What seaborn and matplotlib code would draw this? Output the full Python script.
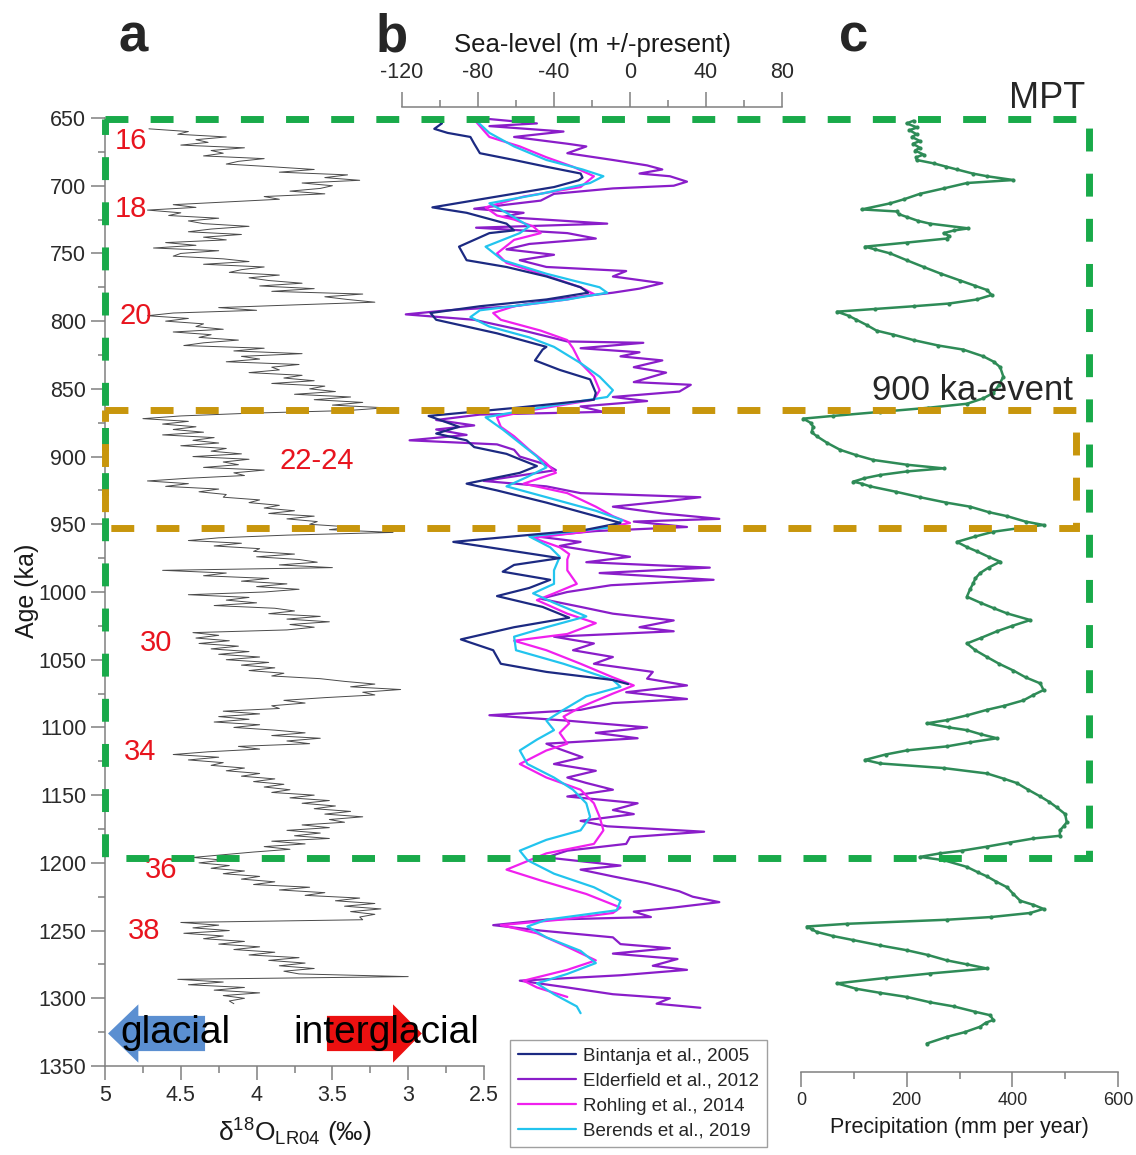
import numpy as np
import matplotlib
matplotlib.use("Agg")
import matplotlib.pyplot as plt
import seaborn as sns
from matplotlib import transforms
from matplotlib.patches import Rectangle, FancyArrow
from matplotlib.ticker import MultipleLocator, FuncFormatter

# ---------------------------------------------------------------- data
# LR04 benthic d18O stack (permil), sampled every 2 ka from 658 to 1304 ka
d18o_age = np.arange(658, 1305, 2)
d18o_val = [
    4.71, 4.45, 4.52, 4.20, 4.40, 4.32, 4.50, 4.08, 4.30, 4.22,
    4.35, 3.95, 4.12, 4.20, 3.90, 3.62, 3.85, 3.40, 3.55, 3.32,
    3.70, 3.50, 3.58, 3.78, 3.55, 3.95, 3.85, 4.20, 4.55, 4.40,
    4.72, 4.50, 4.58, 4.25, 4.45, 4.35, 4.05, 4.30, 4.45, 4.10,
    4.35, 4.20, 4.60, 4.40, 4.68, 4.25, 4.50, 4.55, 4.22, 4.05,
    4.35, 3.95, 4.10, 4.18, 3.85, 4.05, 3.92, 3.70, 3.98, 3.62,
    3.90, 3.30, 3.55, 3.40, 3.22, 3.75, 4.25, 4.00, 4.55, 4.72,
    4.45, 4.60, 4.35, 4.40, 4.22, 4.55, 4.30, 4.38, 4.12, 4.35,
    4.48, 3.95, 4.15, 3.70, 4.10, 3.98, 4.20, 3.72, 3.90, 3.85,
    4.05, 3.70, 3.82, 3.62, 3.90, 3.55, 3.65, 3.48, 3.75, 3.38,
    3.62, 3.30, 3.50, 3.15, 3.40, 4.05, 4.50, 4.75, 4.45, 4.62,
    4.40, 4.55, 4.35, 4.62, 4.28, 4.42, 4.25, 4.50, 4.20, 4.30,
    4.10, 4.42, 4.05, 4.22, 4.12, 4.35, 3.95, 4.15, 4.08, 4.45,
    4.72, 4.45, 4.60, 4.25, 4.38, 4.20, 4.22, 3.98, 4.05, 3.85,
    3.95, 3.75, 3.92, 3.62, 3.80, 3.60, 3.65, 3.38, 3.52, 3.10,
    3.80, 4.25, 4.45, 4.10, 4.28, 3.98, 4.02, 3.75, 4.00, 3.72,
    3.60, 3.85, 3.50, 4.62, 4.20, 4.35, 3.92, 4.10, 3.80, 4.00,
    3.72, 3.95, 4.45, 4.05, 4.20, 4.00, 4.28, 3.88, 3.75, 3.92,
    3.58, 3.80, 3.52, 3.78, 3.62, 3.80, 4.42, 4.25, 4.40, 4.18,
    4.38, 4.12, 4.30, 4.05, 4.25, 3.98, 4.20, 3.92, 4.10, 3.88,
    4.05, 3.82, 3.90, 3.58, 3.42, 3.22, 3.38, 3.05, 3.30, 3.22,
    3.55, 3.82, 3.68, 3.90, 3.85, 4.22, 3.98, 4.25, 4.05, 4.28,
    3.98, 4.15, 3.88, 3.68, 3.90, 3.58, 3.80, 3.65, 4.12, 3.98,
    4.32, 4.55, 4.25, 4.45, 4.22, 4.30, 4.08, 4.20, 3.98, 4.10,
    3.88, 4.02, 3.82, 3.95, 3.78, 3.90, 3.62, 3.78, 3.52, 3.70,
    3.48, 3.62, 3.38, 3.55, 3.30, 3.52, 3.42, 3.70, 3.52, 3.80,
    3.58, 3.75, 3.52, 3.90, 3.68, 3.95, 3.78, 4.02, 4.22, 4.42,
    4.22, 4.38, 4.18, 4.30, 4.08, 4.22, 3.98, 4.10, 3.88, 4.02,
    3.65, 3.85, 3.55, 3.68, 3.32, 3.48, 3.22, 3.42, 3.18, 3.38,
    3.22, 3.32, 3.30, 4.50, 4.25, 4.42, 4.18, 4.48, 4.22, 4.35,
    4.08, 4.25, 3.98, 4.15, 3.88, 4.05, 3.72, 3.92, 3.68, 3.85,
    3.62, 3.82, 3.72, 3.00, 4.52, 4.22, 4.45, 4.08, 4.28, 3.98,
    4.22, 4.08, 4.18, 4.15,
]

# Sea-level reconstructions (m relative to present)
bintanja_age = [650, 654, 658, 661, 664, 669, 676, 681, 686, 691,
                694, 696, 701, 708, 716, 720, 728, 733, 735, 745,
                755, 760, 767, 775, 779, 784, 789, 794, 799, 809,
                819, 821, 829, 836, 843, 853, 858, 864, 870, 878,
                883, 888, 893, 898, 902, 907, 912, 920, 925, 934,
                944, 949, 954, 963, 969, 975, 980, 985, 991, 997,
                1003, 1011, 1019, 1026, 1035, 1043, 1053, 1059, 1065, 1068]
bintanja_sl = [-103, -99, -103, -96, -84, -82, -79, -61, -44, -26,
               -25, -27, -40, -70, -104, -86, -65, -61, -74, -90,
               -86, -65, -44, -26, -22, -44, -79, -105, -102, -70,
               -44, -46, -50, -37, -21, -18, -19, -60, -106, -90,
               -102, -86, -82, -65, -58, -49, -58, -86, -70, -44,
               -18, -5, -23, -93, -65, -37, -61, -67, -42, -53,
               -70, -46, -32, -61, -89, -72, -68, -44, -9, -1]

elderfield_age = [650, 654, 656, 660, 664, 669, 671, 676, 681, 685,
                  688, 691, 693, 697, 700, 702, 706, 711, 714, 717,
                  720, 723, 728, 731, 735, 739, 743, 747, 751, 755,
                  760, 763, 767, 772, 776, 779, 784, 789, 792, 795,
                  799, 807, 815, 816, 820, 823, 826, 829, 834, 838,
                  845, 847, 852, 856, 859, 863, 867, 869, 873, 877,
                  880, 884, 888, 891, 895, 900, 906, 910, 914, 918,
                  922, 927, 930, 933, 937, 942, 946, 948, 952, 955,
                  959, 963, 966, 970, 974, 978, 982, 986, 991, 995,
                  1000, 1005, 1011, 1016, 1021, 1026, 1029, 1033, 1038, 1043,
                  1048, 1053, 1059, 1064, 1069, 1074, 1079, 1082, 1087, 1091,
                  1095, 1100, 1104, 1108, 1112, 1116, 1122, 1127, 1132, 1137,
                  1141, 1146, 1151, 1156, 1161, 1164, 1169, 1173, 1177, 1181,
                  1186, 1191, 1196, 1202, 1205, 1210, 1215, 1221, 1225, 1229,
                  1233, 1236, 1240, 1242, 1246, 1250, 1255, 1260, 1263, 1267,
                  1271, 1276, 1279, 1283, 1287, 1292, 1297, 1300, 1304, 1307]
elderfield_sl = [-80, -49, -74, -35, -61, -33, -23, -33, -9, 9,
                 17, 5, 21, 30, 23, -9, -40, -47, -65, -82,
                 -56, -67, -12, -81, -33, -18, -53, -65, -40, -58,
                 -44, -2, -9, 17, 5, -9, -39, -61, -96, -118,
                 -82, -56, -33, 7, -26, 5, -5, 17, 2, 19,
                 2, 32, 26, -9, 9, -26, -14, -79, -102, -82,
                 -102, -86, -116, -70, -61, -58, -44, -39, -58, -77,
                 -44, -26, 37, 19, -9, 17, 47, 2, 30, -18,
                 -49, -26, -37, -19, 0, -23, 42, -16, 44, -10,
                 -33, -47, -26, -9, 23, 5, 23, -40, -19, -30,
                 -9, -19, 12, 9, 30, -2, 30, -9, -26, -74,
                 -33, 9, -18, 4, -44, -37, -25, -40, -18, -33,
                 -23, -9, -33, 4, -9, 2, -26, -12, 39, 0,
                 -2, -33, -44, -5, -26, -9, 9, 26, 33, 47,
                 23, 2, 11, -44, -72, -47, -9, -5, 21, -9,
                 25, 12, 30, -5, -58, -33, -9, 21, 14, 37]

rohling_age = [648, 656, 664, 671, 679, 686, 693, 701, 708, 716,
               722, 725, 730, 735, 740, 750, 757, 765, 775, 780,
               784, 789, 794, 799, 807, 814, 820, 831, 841, 851,
               858, 866, 871, 878, 885, 895, 905, 912, 920, 927,
               937, 944, 949, 956, 960, 967, 972, 976, 984, 994,
               1001, 1006, 1016, 1023, 1031, 1036, 1043, 1053, 1063, 1069,
               1075, 1085, 1092, 1097, 1104, 1112, 1117, 1127, 1137, 1146,
               1156, 1166, 1176, 1186, 1193, 1201, 1205, 1213, 1223, 1233,
               1237, 1242, 1246, 1252, 1262, 1272, 1279, 1287, 1292, 1299]
rohling_sl = [-84, -79, -74, -58, -44, -30, -19, -26, -56, -76,
              -70, -61, -51, -47, -61, -70, -65, -47, -26, -19,
              -33, -61, -72, -68, -47, -33, -30, -26, -19, -16,
              -19, -53, -70, -68, -61, -53, -44, -39, -56, -33,
              -18, -9, 0, -26, -51, -37, -32, -33, -33, -28,
              -40, -49, -33, -18, -33, -61, -44, -26, -9, 2,
              -9, -26, -35, -32, -37, -33, -44, -58, -44, -26,
              -19, -16, -14, -19, -44, -58, -65, -47, -23, -5,
              -9, -37, -68, -49, -33, -18, -33, -56, -49, -33]

berends_age = [648, 661, 671, 681, 688, 693, 698, 706, 713, 720,
               730, 735, 745, 755, 765, 775, 779, 784, 792, 797,
               804, 812, 819, 831, 841, 851, 856, 863, 871, 880,
               890, 900, 908, 915, 922, 930, 940, 947, 952, 959,
               967, 974, 984, 994, 1001, 1008, 1018, 1026, 1033, 1043,
               1053, 1065, 1070, 1077, 1087, 1095, 1102, 1109, 1117, 1127,
               1137, 1146, 1156, 1166, 1176, 1183, 1191, 1198, 1208, 1218,
               1228, 1235, 1242, 1247, 1255, 1265, 1274, 1282, 1289, 1297,
               1306, 1311]
berends_sl = [-84, -74, -61, -44, -25, -14, -21, -47, -74, -65,
              -53, -58, -76, -67, -44, -16, -12, -33, -79, -84,
              -74, -53, -40, -26, -16, -9, -12, -44, -76, -67,
              -58, -49, -44, -54, -65, -44, -18, -4, -9, -53,
              -42, -37, -40, -40, -51, -40, -23, -44, -61, -60,
              -35, -9, -5, -23, -35, -44, -40, -49, -58, -54,
              -40, -30, -23, -21, -26, -44, -58, -54, -40, -19,
              -5, -7, -44, -54, -44, -26, -18, -33, -49, -40,
              -28, -26]

# Reconstructed precipitation (mm per year)
precip_age = [652, 654, 657, 659, 662, 664, 667, 669, 672, 674,
              677, 679, 681, 683.5, 686, 688, 691, 693, 695.8, 698,
              702, 706, 710, 713, 717.5, 719, 721, 723, 726, 728,
              731.5, 733, 735, 737, 739, 742, 745, 747, 750, 755,
              760, 765, 770, 774, 777, 780.7, 784, 787, 789, 791,
              793, 796, 799, 803, 807, 810, 814, 818, 821, 826,
              830, 834, 841, 847, 853, 857, 861, 864, 867, 870,
              872, 875, 878, 882, 885, 890, 895, 899, 902.5, 906,
              908.7, 911, 913.6, 916, 918.5, 920, 922, 926, 930, 934,
              937, 941, 944, 948, 950.5, 953, 955.5, 959, 963, 967,
              970, 974, 977.6, 982, 986, 990, 993.6, 998, 1003.5, 1008,
              1012, 1015.8, 1020.7, 1025, 1029, 1034, 1038, 1043, 1048, 1053,
              1058, 1063, 1067.5, 1072.4, 1076, 1080, 1084, 1087, 1091, 1094.6,
              1097, 1100, 1102, 1105, 1108, 1111, 1114, 1117, 1120, 1124,
              1126.6, 1130, 1134, 1138, 1141, 1146, 1151, 1155, 1159, 1164,
              1170, 1173, 1176, 1180, 1182, 1185, 1188, 1191, 1193, 1195.6,
              1198, 1203, 1207, 1210, 1214, 1218, 1223, 1228, 1231, 1234,
              1237, 1240, 1242, 1245, 1247, 1249, 1251, 1254, 1257, 1261,
              1264.5, 1268, 1272, 1275, 1278, 1281.7, 1285, 1289, 1293, 1296,
              1299, 1303, 1306, 1310, 1312.5, 1316, 1318, 1321, 1325, 1328.5,
              1333.4]
precip_val = [213, 200, 220, 205, 219, 210, 225, 212, 225, 216,
              232, 218, 219, 251, 275, 295, 325, 352, 402, 314,
              270, 225, 195, 169, 115, 181, 185, 200, 222, 244,
              317, 290, 270, 280, 276, 200, 121, 140, 169, 200,
              232, 265, 301, 330, 352, 361, 333, 280, 213, 140,
              68, 90, 105, 125, 143, 175, 213, 260, 307, 345,
              365, 377, 383, 375, 364, 345, 314, 240, 150, 60,
              4, 18, 23, 20, 30, 50, 74, 105, 137, 200,
              270, 200, 150, 120, 99, 115, 131, 180, 225, 275,
              320, 355, 390, 425, 459, 410, 364, 330, 295, 315,
              333, 355, 377, 355, 339, 330, 326, 320, 314, 340,
              365, 390, 434, 400, 371, 340, 314, 330, 352, 375,
              402, 425, 453, 459, 440, 421, 385, 352, 315, 276,
              238, 280, 314, 340, 371, 320, 276, 200, 160, 121,
              150, 270, 352, 385, 408, 430, 453, 470, 484, 500,
              503, 497, 490, 490, 440, 395, 352, 305, 263, 225,
              270, 314, 335, 352, 370, 390, 402, 415, 440, 459,
              434, 360, 276, 87, 11, 20, 30, 60, 99, 150,
              200, 240, 276, 315, 352, 244, 160, 68, 105, 150,
              200, 245, 289, 330, 358, 364, 350, 339, 310, 276,
              238]

series_labels = ["Bintanja et al., 2005", "Elderfield et al., 2012",
                 "Rohling et al., 2014", "Berends et al., 2019"]
series_colors = ["#1c2a82", "#8a1dc9", "#f020ee", "#22c4ee"]

# Marine isotope stages: label, age (ka), d18O position
mis_labels = ["16", "18", "20", "22-24", "30", "34", "36", "38"]
mis_ages = [667, 717, 796, 903, 1038, 1118, 1205, 1250]
mis_x = [4.83, 4.83, 4.80, 3.60, 4.66, 4.77, 4.63, 4.74]

# Highlighted intervals (ka)
mpt_window = (651, 1196.5)
event_window = (865.7, 952.8)

# ---------------------------------------------------------------- style
sns.set_theme(style="ticks")
plt.rcParams['font.family'] = ['Liberation Sans', 'DejaVu Sans']
plt.rcParams['mathtext.fontset'] = 'custom'
plt.rcParams['mathtext.rm'] = 'Liberation Sans'
plt.rcParams['mathtext.it'] = 'Liberation Sans:italic'
plt.rcParams['mathtext.bf'] = 'Liberation Sans:bold'

W, H = 1136, 1155
fig = plt.figure(figsize=(W / 100, H / 100), dpi=100)
fig.patch.set_facecolor("white")


def px_box(left, right, top, bottom):
    return [left / W, 1 - bottom / H, (right - left) / W, (bottom - top) / H]


spine_col = "#808080"
tick_lab_col = "#2a2a2a"
age_lim = (1350, 650)

ax_a = fig.add_axes(px_box(105, 484, 118, 1066))
ax_b = fig.add_axes(px_box(402, 782, 118, 1066))
ax_c = fig.add_axes(px_box(801, 1118, 118, 1066))
for ax in (ax_a, ax_b, ax_c):
    ax.set_facecolor("none")
    ax.set_ylim(*age_lim)
    for s in ax.spines.values():
        s.set_color(spine_col)
        s.set_linewidth(1.1)

fmt = FuncFormatter(lambda v, p: f"{v:g}")

# ---- panel a: d18O
sns.lineplot(x=d18o_val, y=d18o_age, orient="y", sort=False, estimator=None,
             color="#4a4a4a", lw=0.7, ax=ax_a)
ax_a.set_xlim(5, 2.5)
ax_a.spines["top"].set_visible(False)
ax_a.spines["right"].set_visible(False)
ax_a.xaxis.set_major_locator(MultipleLocator(0.5))
ax_a.xaxis.set_minor_locator(MultipleLocator(0.25))
ax_a.xaxis.set_major_formatter(fmt)
ax_a.yaxis.set_major_locator(MultipleLocator(50))
ax_a.yaxis.set_minor_locator(MultipleLocator(25))
ax_a.tick_params(which="major", length=10, width=1.1, color=spine_col,
                 labelsize=15.5, labelcolor=tick_lab_col, left=True, bottom=True)
ax_a.tick_params(which="minor", length=5, width=1.1, color=spine_col,
                 left=True, bottom=True)
ax_a.set_xlabel("")
ax_a.set_ylabel("")

for lab, age, xv in zip(mis_labels, mis_ages, mis_x):
    ax_a.text(xv, age, lab, color="#e8141e", fontsize=21,
              ha="center", va="center", zorder=6)

ax_a.add_patch(FancyArrow(4.34, 1326, 0.64, 0, width=26, head_width=43,
                          head_length=0.2, length_includes_head=True,
                          color="#5b8fd1", lw=0, zorder=4, clip_on=False))
ax_a.add_patch(FancyArrow(3.536, 1326, -0.626, 0, width=26, head_width=43,
                          head_length=0.19, length_includes_head=True,
                          color="#ec1010", lw=0, zorder=4, clip_on=False))
ax_a.text(4.90, 1333, "glacial", fontsize=28, ha="left", va="baseline",
          color="black", zorder=6)
ax_a.text(3.76, 1333, "interglacial", fontsize=28, ha="left", va="baseline",
          color="black", zorder=6)

# ---- panel b: sea level
sl_sets = [(bintanja_age, bintanja_sl, 6), (elderfield_age, elderfield_sl, 3),
           (rohling_age, rohling_sl, 4), (berends_age, berends_sl, 5)]
for (ages, vals, z), lab, col in zip(sl_sets, series_labels, series_colors):
    sns.lineplot(x=vals, y=ages, orient="y", sort=False, estimator=None,
                 color=col, lw=1.6, label=lab, zorder=z, ax=ax_b, legend=False)
ax_b.set_xlim(-120, 80)
for side in ("left", "right", "bottom"):
    ax_b.spines[side].set_visible(False)
ax_b.spines["top"].set_position(("outward", 8))
ax_b.xaxis.tick_top()
ax_b.xaxis.set_major_locator(MultipleLocator(40))
ax_b.xaxis.set_minor_locator(MultipleLocator(20))
ax_b.xaxis.set_major_formatter(fmt)
ax_b.tick_params(which="major", length=11, width=1.1, color=spine_col,
                 labelsize=15.5, labelcolor=tick_lab_col, top=True, bottom=False,
                 pad=6)
ax_b.tick_params(which="minor", length=5, width=1.1, color=spine_col,
                 top=True, bottom=False)
ax_b.yaxis.set_visible(False)
ax_b.set_xlabel("")

# ---- panel c: precipitation
sns.lineplot(x=precip_val, y=precip_age, orient="y", sort=False, estimator=None,
             color="#2e8b57", lw=1.8, marker="o", markersize=3,
             markeredgewidth=0, ax=ax_c)
ax_c.set_xlim(0, 600)
for side in ("left", "right", "top"):
    ax_c.spines[side].set_visible(False)
ax_c.spines["bottom"].set_position(("outward", 4))
ax_c.xaxis.set_major_locator(MultipleLocator(200))
ax_c.xaxis.set_minor_locator(MultipleLocator(100))
ax_c.tick_params(which="major", length=11, width=1.1, color=spine_col,
                 labelsize=13, labelcolor=tick_lab_col, bottom=True)
ax_c.tick_params(which="minor", length=5, width=1.1, color=spine_col, bottom=True)
ax_c.yaxis.set_visible(False)
ax_c.set_xlabel("")

# ---- highlighted intervals spanning all panels
span = transforms.blended_transform_factory(fig.transFigure, ax_a.transData)
fig.add_artist(Rectangle((105 / W, mpt_window[0]), (1089 - 105) / W,
                         mpt_window[1] - mpt_window[0], transform=span,
                         fill=False, edgecolor="#19aa4a", lw=5,
                         linestyle=(0, (3.3, 3.2)), zorder=8))
fig.add_artist(Rectangle((105 / W, event_window[0]), (1076 - 105) / W,
                         event_window[1] - event_window[0], transform=span,
                         fill=False, edgecolor="#c8960c", lw=5,
                         linestyle=(0, (3.3, 3.2)), zorder=8))

# ---- texts
for letter, xp in (("a", 133), ("b", 392), ("c", 854)):
    fig.text(xp / W, 1 - 52 / H, letter, fontsize=38, fontweight="bold",
             ha="center", va="baseline")
fig.text(592 / W, 1 - 52 / H, "Sea-level (m +/-present)", fontsize=18.5,
         ha="center", va="baseline", color="#1a1a1a")
fig.text(1085 / W, 1 - 108 / H, "MPT", fontsize=26, ha="right", va="baseline")
fig.text(1073 / W, 1 - 400 / H, "900 ka-event", fontsize=25, ha="right",
         va="baseline", zorder=9)
fig.text(27 / W, 1 - 591 / H, "Age (ka)", rotation=90, fontsize=18,
         ha="center", va="center", color="#1a1a1a")
fig.text(294.5 / W, 1 - 1142 / H,
         r"δ$^{\mathregular{18}}$O$_{\mathregular{LR04}}$ (‰)", fontsize=19,
         ha="center", va="baseline", color="#1a1a1a")
fig.text(959.5 / W, 1 - 1133 / H, "Precipitation (mm per year)", fontsize=15.5,
         ha="center", va="baseline", color="#1a1a1a")

# ---- legend
handles, labels = ax_b.get_legend_handles_labels()
order = [labels.index(l) for l in series_labels]
leg = fig.legend([handles[i] for i in order], [labels[i] for i in order],
                 loc="upper left", bbox_to_anchor=(510 / W, 1 - 1040 / H),
                 bbox_transform=fig.transFigure, borderaxespad=0,
                 fontsize=13.5, frameon=True, fancybox=False,
                 handlelength=3.1, handletextpad=0.4, labelspacing=0.42,
                 borderpad=0.4)
leg.get_frame().set_edgecolor("#888888")
leg.get_frame().set_linewidth(1.0)
for ln in leg.get_lines():
    ln.set_linewidth(1.6)

fig.savefig("out.png", dpi=100, facecolor="white")
